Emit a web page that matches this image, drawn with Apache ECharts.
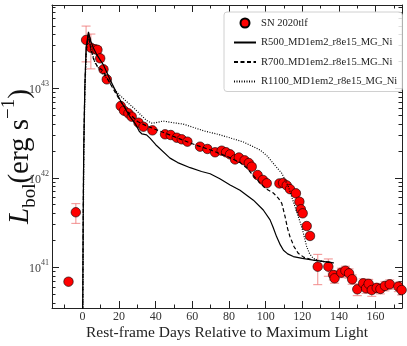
<!DOCTYPE html>
<html>
<head>
<meta charset="utf-8">
<script src="https://cdn.jsdelivr.net/npm/echarts@6/dist/echarts.min.js"></script>
<style>
html,body{margin:0;padding:0;background:#fff;}
#chart{width:407px;height:346px;}
</style>
</head>
<body>
<div id="chart"></div>
<script>
// observed bolometric light curve (log10 L in erg/s), error as fraction of L
var obsDays = [-7.6, -3.6, 2.0, 4.6, 6.9, 8.2, 9.7, 11.5, 13.3, 20.9, 22.7, 25.1, 26.9, 30.6, 33.3, 38.2,
    45.1, 48.2, 51.5, 54.2, 57.3, 64.2, 68.2, 72.4, 76.0, 78.4, 80.6, 83.3, 85.4, 88.5, 90.8, 92.4,
    95.6, 98.5, 100.6, 107.5, 109.5, 111.5, 113.3, 116.5, 118.4, 119.2, 120.2, 122.4, 124.2, 128.4,
    134.2, 136.9, 137.6, 141.3, 143.5, 145.5, 147.2, 150.0, 153.2, 154.8, 156.2, 157.9, 160.6, 162.6,
    165.1, 167.7, 172.4, 174.2];
var obsLogL = [40.839, 41.615, 43.54, 43.454, 43.436, 43.43, 43.335, 43.212, 43.10, 42.802, 42.75, 42.72,
    42.683, 42.616, 42.571, 42.53, 42.486, 42.478, 42.448, 42.43, 42.404, 42.348, 42.322, 42.285, 42.303,
    42.285, 42.262, 42.205, 42.227, 42.195, 42.165, 42.124, 42.031, 41.976, 41.939, 41.937, 41.942, 41.915,
    41.873, 41.827, 41.733, 41.648, 41.603, 41.461, 41.35, 41.007, 41.007, 40.914, 40.877, 40.94, 40.962,
    40.933, 40.866, 40.754, 40.821, 40.765, 40.815, 40.746, 40.77, 40.758, 40.792, 40.81, 40.784, 40.746];
var obsErrFrac = [0, 0.25, 0.43, 0.42, 0.06, 0.08, 0.08, 0.07, 0.05, 0.04, 0.04, 0.04, 0.04, 0.04, 0.04, 0.04,
    0.04, 0.04, 0.04, 0.04, 0.04, 0.04, 0.04, 0.04, 0.04, 0.04, 0.04, 0.06, 0.06, 0.06, 0.06, 0.06,
    0.06, 0.06, 0.06, 0.05, 0.05, 0.05, 0.05, 0.05, 0.06, 0.06, 0.06, 0.06, 0.06, 0.37,
    0.22, 0.12, 0.12, 0.12, 0.12, 0.12, 0.12, 0.15, 0.12, 0.12, 0.12, 0.15, 0.12, 0.12,
    0.12, 0.12, 0.12, 0.12];

// models
var r500Days = [0.1, 0.4, 0.7, 1.3, 2.0, 3.3, 4.5, 6.0, 8.0, 11.5, 15.0, 20.6, 26.0, 29.0, 31.0, 32.5, 35.0, 37.0,
    40.0, 47.8, 52.0, 58.8, 65.0, 69.7, 75.0, 80.6, 86.0, 90.0, 93.3, 98.7, 102.4, 104.0, 106.0, 108.0, 109.7,
    112.0, 115.1, 120.0, 126.0, 137.0];
var r500LogL = [40.3, 41.5, 42.3, 43.0, 43.45, 43.63, 43.53, 43.45, 43.37, 43.26, 43.1, 42.87, 42.68, 42.6, 42.52,
    42.49, 42.48, 42.44, 42.37, 42.22, 42.17, 42.113, 42.07, 42.045, 41.99, 41.92, 41.86, 41.8, 41.75, 41.64,
    41.53, 41.45, 41.34, 41.25, 41.19, 41.15, 41.12, 41.1, 41.08, 41.05];
var r700Days = [0.1, 0.4, 0.7, 1.3, 2.0, 3.2, 4.5, 6.0, 8.0, 11.0, 15.0, 20.0, 25.0, 30.0, 35.0, 40.0, 50.0, 60.0,
    70.0, 80.0, 86.0, 89.7, 93.0, 97.0, 100.0, 104.2, 107.0, 108.8, 110.6, 112.0, 113.3, 115.5, 117.8, 121.0,
    126.0, 137.0];
var r700LogL = [40.3, 41.5, 42.3, 43.0, 43.4, 43.6, 43.45, 43.33, 43.25, 43.2, 43.06, 42.88, 42.73, 42.63, 42.58,
    42.54, 42.46, 42.38, 42.31, 42.23, 42.17, 42.11, 42.03, 41.94, 41.88, 41.83, 41.77, 41.715, 41.565, 41.43,
    41.34, 41.23, 41.156, 41.11, 41.08, 41.05];
var r1100Days = [0.2, 0.5, 0.8, 1.4, 2.1, 3.3, 4.5, 6.9, 10.0, 13.3, 17.0, 20.0, 24.2, 28.0, 31.5, 35.0, 38.0,
    41.0, 44.0, 48.0, 55.0, 61.0, 67.0, 73.3, 80.0, 87.8, 93.0, 97.0, 101.0, 104.2, 108.8, 112.4, 116.0,
    119.7, 122.4, 124.0, 126.0, 130.0, 137.0];
var r1100LogL = [40.3, 41.5, 42.3, 43.0, 43.4, 43.6, 43.45, 43.28, 43.19, 43.11, 43.0, 42.93, 42.85, 42.78, 42.71,
    42.64, 42.61, 42.62, 42.635, 42.62, 42.6, 42.56, 42.52, 42.49, 42.45, 42.40, 42.35, 42.31, 42.24, 42.16,
    42.05, 41.90, 41.677, 41.45, 41.23, 41.15, 41.1, 41.07, 41.05];

var seriesNames = ['SN 2020tlf', 'R500_MD1em2_r8e15_MG_Ni', 'R700_MD1em2_r8e15_MG_Ni', 'R1100_MD1em2_r8e15_MG_Ni'];

// axes
var xMin = -16.6, xMax = 174.4;
var yMin = 40.545, yMax = 43.931;
var xMajorTicks = [0, 20, 40, 60, 80, 100, 120, 140, 160];
var xMinorTicks = [-10, 10, 30, 50, 70, 90, 110, 130, 150, 170];
var yMajorTicks = [41, 42, 43];
var yMinorMantissa = [2, 3, 4, 5, 6, 7, 8, 9];

var yMinorTicks = [];
[40, 41, 42, 43].forEach(function (d) {
    yMinorMantissa.forEach(function (m) {
        var v = d + Math.log10(m);
        if (v > yMin && v < yMax) yMinorTicks.push(v);
    });
});

function zip(a, b) {
    return a.map(function (v, i) { return [v, b[i]]; });
}

var errData = [];
obsDays.forEach(function (d, i) {
    var f = obsErrFrac[i];
    if (f > 0) {
        errData.push([d, obsLogL[i] + Math.log10(1 - f), obsLogL[i] + Math.log10(1 + f)]);
    }
});

var font = "'Liberation Serif', serif";
var frame = '#222';
var errColor = 'rgba(240,120,120,0.7)';

function renderErr(params, api) {
    var lo = api.coord([api.value(0), api.value(1)]);
    var hi = api.coord([api.value(0), api.value(2)]);
    var w = 4.5;
    var st = { stroke: errColor, lineWidth: 1.2 };
    return {
        type: 'group',
        children: [
            { type: 'line', shape: { x1: lo[0], y1: lo[1], x2: hi[0], y2: hi[1] }, style: st },
            { type: 'line', shape: { x1: lo[0] - w, y1: lo[1], x2: lo[0] + w, y2: lo[1] }, style: st },
            { type: 'line', shape: { x1: hi[0] - w, y1: hi[1], x2: hi[0] + w, y2: hi[1] }, style: st }
        ]
    };
}

function xAxisDef(pos, ticks, len, main) {
    return {
        type: 'value', min: xMin, max: xMax, position: pos,
        axisLine: { show: main, onZero: false, lineStyle: { color: frame, width: 1 } },
        axisTick: { show: true, inside: true, length: len, customValues: ticks, lineStyle: { color: frame, width: 1 } },
        axisLabel: (main && pos === 'bottom') ? {
            show: true, customValues: ticks, margin: 3, color: '#333', fontSize: 12, fontFamily: font
        } : { show: false },
        splitLine: { show: false }
    };
}

function yAxisDef(pos, ticks, len, main) {
    return {
        type: 'value', min: yMin, max: yMax, position: pos,
        axisLine: { show: main, onZero: false, lineStyle: { color: frame, width: 1 } },
        axisTick: { show: true, inside: true, length: len, customValues: ticks, lineStyle: { color: frame, width: 1 } },
        axisLabel: (main && pos === 'left') ? {
            show: true, customValues: ticks, margin: 3,
            formatter: function (v) { return '{b|10}{e|' + Math.round(v) + '}'; },
            rich: {
                b: { fontSize: 12, color: '#444', fontFamily: font, lineHeight: 16, verticalAlign: 'bottom' },
                e: { fontSize: 8, color: '#444', fontFamily: font, lineHeight: 16, verticalAlign: 'top' }
            }
        } : { show: false },
        splitLine: { show: false }
    };
}

var xAxes = [
    xAxisDef('bottom', xMajorTicks, 7, true),
    xAxisDef('bottom', xMinorTicks, 3.5, false),
    xAxisDef('top', xMajorTicks, 7, true),
    xAxisDef('top', xMinorTicks, 3.5, false)
];
xAxes[0].name = 'Rest-frame Days Relative to Maximum Light';
xAxes[0].nameLocation = 'middle';
xAxes[0].nameGap = 17;
xAxes[0].nameMoveOverlap = false;
xAxes[0].nameTextStyle = { fontSize: 15.5, color: '#222', fontFamily: font };

var yAxes = [
    yAxisDef('left', yMajorTicks, 7, true),
    yAxisDef('left', yMinorTicks, 3.5, false),
    yAxisDef('right', yMajorTicks, 7, true),
    yAxisDef('right', yMinorTicks, 3.5, false)
];
yAxes[0].name = '{i|L}{s|bol}{n|(erg s}{p|\u22121}{n|)}';
yAxes[0].nameLocation = 'middle';
yAxes[0].nameGap = 12;
yAxes[0].nameMoveOverlap = false;
yAxes[0].nameTextStyle = {
    color: '#111',
    rich: {
        i: { fontSize: 29, fontStyle: 'italic', fontFamily: font, lineHeight: 40, verticalAlign: 'middle' },
        s: { fontSize: 19, fontFamily: font, lineHeight: 26, verticalAlign: 'bottom' },
        n: { fontSize: 29, fontFamily: font, lineHeight: 40, verticalAlign: 'middle' },
        p: { fontSize: 19, fontFamily: font, lineHeight: 26, verticalAlign: 'top' }
    }
};

function modelSeries(name, days, logL, dash) {
    return {
        name: name, type: 'line', data: zip(days, logL),
        symbol: 'none', smooth: false, clip: true, z: 5,
        itemStyle: { color: '#000' },
        lineStyle: { color: '#000', width: 1.2, type: dash }
    };
}

var chart = echarts.init(document.getElementById('chart'), null, { renderer: 'canvas' });
chart.setOption({
    animation: false,
    backgroundColor: '#fff',
    grid: { left: 52, right: 5, top: 5, bottom: 38, containLabel: false, outerBoundsMode: 'none' },
    legend: {
        orient: 'vertical', left: 224, top: 12,
        padding: [5, 5, 4, 9], itemGap: 7.5, itemWidth: 22, itemHeight: 9,
        backgroundColor: 'rgba(255,255,255,0.85)', borderColor: '#d0d0d0', borderWidth: 1, borderRadius: 3,
        formatter: function (name) { return name.split('_').join('{u|_}'); },
        textStyle: {
            fontSize: 10.6, color: '#222', fontFamily: font, lineHeight: 12,
            rich: { u: { fontSize: 8, color: '#222', fontFamily: font, lineHeight: 12 } }
        },
        data: [
            { name: seriesNames[0], icon: 'circle' },
            { name: seriesNames[1], itemStyle: { opacity: 0 } },
            { name: seriesNames[2], itemStyle: { opacity: 0 } },
            { name: seriesNames[3], itemStyle: { opacity: 0 } }
        ]
    },
    xAxis: xAxes,
    yAxis: yAxes,
    series: [
        {
            name: 'err', type: 'custom', renderItem: renderErr, data: errData, clip: true, z: 2,
            encode: { x: 0, y: [1, 2] }
        },
        {
            name: seriesNames[0], type: 'scatter', data: zip(obsDays, obsLogL), symbolSize: 9.5, clip: true, z: 3,
            itemStyle: { color: '#ff0000', borderColor: '#000', borderWidth: 0.6, opacity: 1 }
        },
        modelSeries(seriesNames[1], r500Days, r500LogL, 'solid'),
        modelSeries(seriesNames[2], r700Days, r700LogL, [4, 2.5]),
        modelSeries(seriesNames[3], r1100Days, r1100LogL, [1, 1.5])
    ]
});
</script>
</body>
</html>
